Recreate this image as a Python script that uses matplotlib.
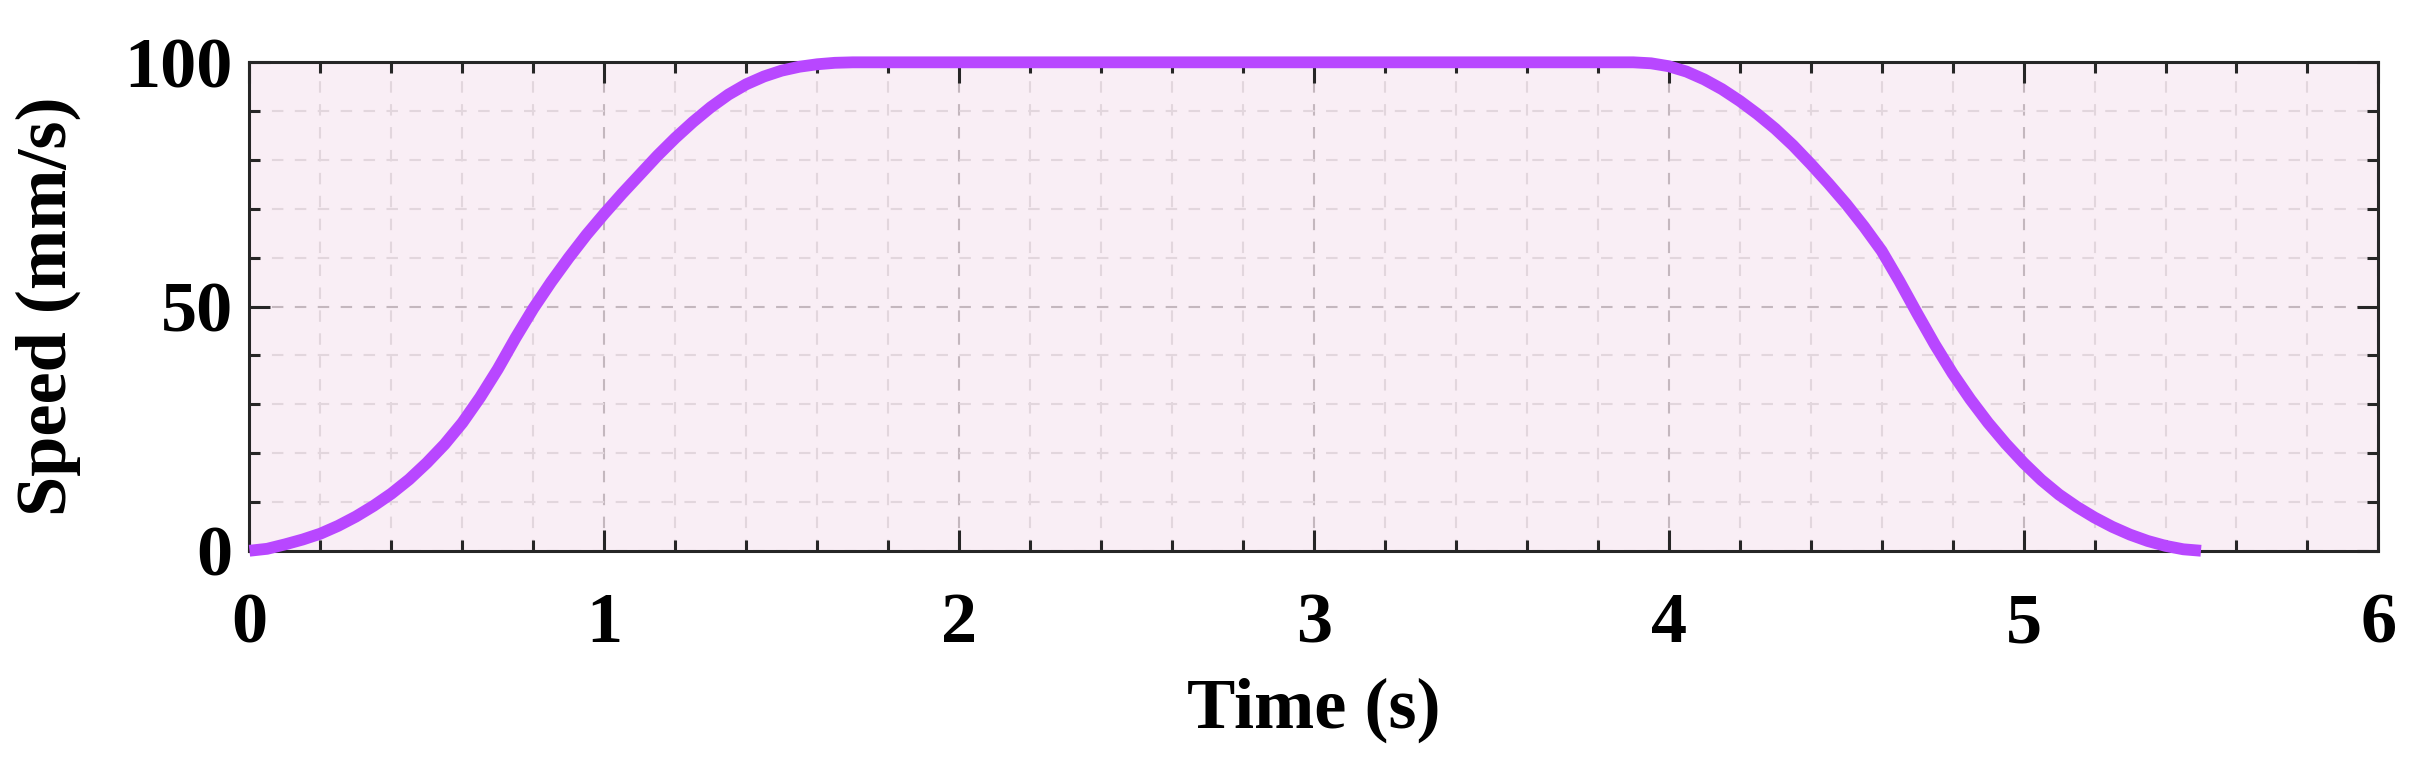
import matplotlib
matplotlib.use('Agg')
import matplotlib.pyplot as plt
from matplotlib.ticker import MultipleLocator

# Speed profile (time in s, speed in mm/s)
accel_time = [0.00, 0.05, 0.10, 0.15, 0.20, 0.25, 0.30, 0.35, 0.40, 0.45,
              0.50, 0.55, 0.60, 0.65, 0.70, 0.75, 0.80, 0.85, 0.90, 0.95,
              1.00, 1.05, 1.10, 1.15, 1.20, 1.25, 1.30, 1.35, 1.40, 1.45,
              1.50, 1.55, 1.60, 1.65, 1.70]
accel_speed = [0.0, 0.4, 1.3, 2.3, 3.5, 5.1, 7.0, 9.2, 11.7, 14.6,
               18.0, 21.8, 26.2, 31.4, 37.2, 43.6, 49.6, 55.0, 60.0, 64.7,
               69.0, 73.1, 77.0, 80.9, 84.5, 87.8, 90.8, 93.4, 95.5, 97.1,
               98.3, 99.1, 99.6, 99.9, 100.0]
decel_time = [3.90, 3.95, 4.00, 4.05, 4.10, 4.15, 4.20, 4.25, 4.30, 4.35,
              4.40, 4.45, 4.50, 4.55, 4.60, 4.65, 4.70, 4.75, 4.80, 4.85,
              4.90, 4.95, 5.00, 5.05, 5.10, 5.15, 5.20, 5.25, 5.30, 5.35,
              5.40, 5.45, 5.50]
decel_speed = [100.0, 99.8, 99.2, 98.1, 96.5, 94.5, 92.1, 89.4, 86.4, 83.0,
               79.2, 75.2, 71.0, 66.4, 61.4, 55.2, 48.6, 42.2, 36.3, 31.0,
               26.2, 21.9, 18.0, 14.5, 11.5, 9.0, 6.8, 4.9, 3.3, 2.0,
               1.0, 0.3, 0.0]

x_ticks = [0, 1, 2, 3, 4, 5, 6]
y_ticks = [0, 50, 100]


def main():
    plt.rcParams['font.family'] = ['Liberation Serif', 'DejaVu Serif']
    plt.rcParams['font.weight'] = 'bold'

    time_s = accel_time + decel_time
    speed = accel_speed + decel_speed

    fig = plt.figure(figsize=(24.22, 7.79), dpi=100)
    ax = fig.add_axes([0.103, 0.293, 0.879, 0.627])
    ax.set_facecolor('#f9eef5')

    ax.plot(time_s, speed, color='#b847ff', linewidth=8.5,
            solid_capstyle='butt', solid_joinstyle='round',
            clip_on=False, zorder=5)

    ax.set_xlim(0, 6)
    ax.set_ylim(0, 100)
    ax.set_xticks(x_ticks)
    ax.set_yticks(y_ticks)
    ax.xaxis.set_minor_locator(MultipleLocator(0.2))
    ax.yaxis.set_minor_locator(MultipleLocator(10))

    ax.grid(True, which='major', linestyle=(0, (5.5, 5.5)), color='#c4b7be',
            linewidth=1.5)
    ax.grid(True, which='minor', linestyle=(0, (5.5, 5.5)), color='#e2d6dd',
            linewidth=1.5)
    ax.set_axisbelow(True)

    ax.tick_params(which='both', direction='in', top=True, right=True,
                   color='#262626', width=2.2)
    ax.tick_params(which='major', length=15, labelsize=52)
    ax.tick_params(axis='x', which='major', pad=30)
    ax.tick_params(axis='y', which='major', pad=12)
    ax.tick_params(which='minor', length=8)
    for s in ax.spines.values():
        s.set_linewidth(2.2)
        s.set_color('#262626')

    ax.set_xlabel('Time (s)', fontsize=52, fontweight='bold')
    ax.set_ylabel('Speed (mm/s)', fontsize=52, fontweight='bold')
    ax.xaxis.set_label_coords(0.5, -0.26)
    ax.yaxis.set_label_coords(-0.079, 0.5)

    fig.savefig('out.png', dpi=100)


if __name__ == '__main__':
    main()
